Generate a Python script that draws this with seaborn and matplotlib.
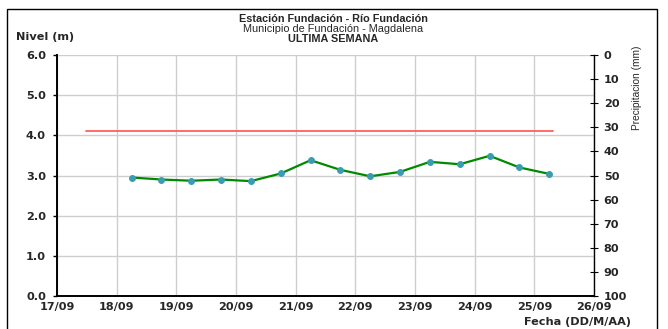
import matplotlib
matplotlib.use("Agg")
import matplotlib.pyplot as plt
import matplotlib.dates as mdates
from matplotlib.patches import Rectangle
import seaborn as sns
import pandas as pd

sns.set_theme(style="white")
plt.rcParams['font.family'] = ['Liberation Sans', 'DejaVu Sans']

# ---- data ----
fechas = ["2023-09-18 06:00", "2023-09-18 18:00", "2023-09-19 06:00", "2023-09-19 18:00",
          "2023-09-20 06:00", "2023-09-20 18:00", "2023-09-21 06:00", "2023-09-21 18:00",
          "2023-09-22 06:00", "2023-09-22 18:00", "2023-09-23 06:00", "2023-09-23 18:00",
          "2023-09-24 06:00", "2023-09-24 18:00", "2023-09-25 06:00"]
nivel = [2.95, 2.90, 2.87, 2.90, 2.86, 3.05, 3.38, 3.14, 2.98, 3.09, 3.34, 3.28, 3.49, 3.20, 3.04]
alerta_fechas = ["2023-09-17 11:30", "2023-09-25 07:30"]
alerta_nivel = [4.11, 4.11]
x_ticks = ["2023-09-%02d" % d for d in range(17, 27)]
y_ticks = [0.0, 1.0, 2.0, 3.0, 4.0, 5.0, 6.0]
precip_ticks = [0, 10, 20, 30, 40, 50, 60, 70, 80, 90, 100]

df = pd.DataFrame({"fecha": pd.to_datetime(fechas), "nivel": nivel})
df_alerta = pd.DataFrame({"fecha": pd.to_datetime(alerta_fechas), "nivel": alerta_nivel})

TICKFONT = dict(family=["DejaVu Sans"], weight="bold", size=8.1)

fig = plt.figure(figsize=(6.68, 3.29), dpi=100)
ax = fig.add_axes([57/668, 1-296/329, (594-57)/668, (296-55)/329])

sns.lineplot(data=df_alerta, x="fecha", y="nivel", ax=ax, color="#ff5f5f", lw=1.3)
sns.lineplot(data=df, x="fecha", y="nivel", ax=ax, color="#008a00", lw=1.6,
             marker="o", markersize=4.2, markerfacecolor="#3a9cb0",
             markeredgecolor="#3a9cb0")

xt = pd.to_datetime(x_ticks)
ax.set_xlim(xt[0], xt[-1])
ax.set_ylim(0, 6)
ax.set_xticks(xt)
ax.xaxis.set_major_formatter(mdates.DateFormatter("%d/%m"))
ax.set_yticks(y_ticks)
ax.set_yticklabels(["%.1f" % v for v in y_ticks])
ax.grid(True, color="#cecece", lw=1.0)
ax.set_axisbelow(True)
ax.set_xlabel("")
ax.set_ylabel("")
for s in ["top", "right"]:
    ax.spines[s].set_visible(False)
for s in ["left", "bottom"]:
    ax.spines[s].set_color("black")
    ax.spines[s].set_linewidth(1.4)
ax.tick_params(axis="y", which="major", length=3, width=1, color="black",
               direction="out", pad=5)
ax.tick_params(axis="x", which="major", length=0, pad=4)
for lab in ax.get_xticklabels() + ax.get_yticklabels():
    lab.set(**TICKFONT)

ax2 = ax.twinx()
ax2.set_ylim(100, 0)
ax2.set_yticks(precip_ticks)
ax2.set_yticklabels([str(v) for v in precip_ticks])
for s in ["top", "left", "bottom"]:
    ax2.spines[s].set_visible(False)
ax2.spines["right"].set_color("black")
ax2.spines["right"].set_linewidth(1.0)
ax2.tick_params(axis="y", length=6, width=0.8, direction="inout", color="black", pad=4)
for lab in ax2.get_yticklabels():
    lab.set(**TICKFONT)
ax2.grid(False)

fig.text(333/668, 1-19/329, "Estación Fundación - Río Fundación", ha="center", va="center",
         fontsize=7.8, fontweight="bold")
fig.text(333/668, 1-29/329, "Municipio de Fundación - Magdalena", ha="center", va="center",
         fontsize=7.8)
fig.text(333/668, 1-39/329, "ULTIMA SEMANA", ha="center", va="center",
         fontsize=7.8, fontweight="bold")
fig.text(16/668, 1-37/329, "Nivel (m)", ha="left", va="center", **TICKFONT)
fig.text(631/668, 1-322/329, "Fecha (DD/M/AA)", ha="right", va="center", **TICKFONT)
fig.text(637/668, 1-88/329, "Precipitacion (mm)", ha="center", va="center", rotation=90,
         fontsize=7.3, family=["Liberation Sans Narrow", "Liberation Sans"])

fig.patches.append(Rectangle((7/668, -0.05), (657-7)/668, 1.05-9/329, transform=fig.transFigure,
                             fill=False, edgecolor="black", lw=1.0))

fig.savefig("out.png", dpi=100)
